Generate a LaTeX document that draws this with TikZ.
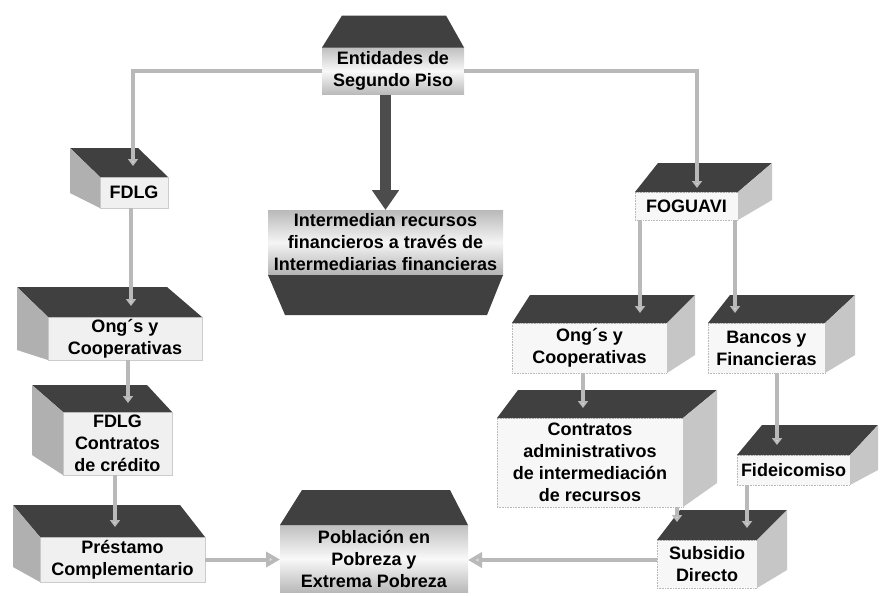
\documentclass[tikz,border=0pt]{standalone}
\usepackage{fontspec}
\setmainfont{Liberation Sans}
\usetikzlibrary{arrows.meta}
\tikzset{
  lbl/.style={font=\fontsize{18}{22}\selectfont\bfseries, align=center, inner sep=0pt, outer sep=0pt},
  rfront/.style={lbl, fill=gray!6, draw=gray!55, densely dotted, line width=0.6pt},
  lfront/.style={lbl, fill=gray!12, draw=gray!40, line width=0.5pt},
  bevfront/.style={lbl, top color=gray!50, bottom color=gray!55, middle color=gray!5},
  topface/.style={fill=black!75},
  sideface/.style={fill=gray!45},
  lsideface/.style={fill=gray!62},
  conn/.style={draw=gray!55, line width=4pt, -{Triangle[length=7pt,width=10pt,fill=gray!35]}},
  bigconn/.style={draw=gray!55, line width=4pt, -{Triangle[length=14pt,width=15pt,fill=gray!30]}},
  thickarrow/.style={draw=black!70, line width=11pt, -{Triangle[length=20pt,width=26pt]}}
}
\newcommand\RBoxFaces[5]{%
  \fill[topface] (#1.north west) -- ([xshift=#2pt,yshift=#4pt]#1.north west) -- ([xshift=#3pt,yshift=#4pt]#1.north east) -- (#1.north east) -- cycle;
  \fill[sideface] (#1.north east) -- ([xshift=#3pt,yshift=#4pt]#1.north east) -- ([xshift=#3pt,yshift=#5pt]#1.south east) -- (#1.south east) -- cycle;
}
\newcommand\LBoxFaces[5]{%
  \fill[topface] (#1.north east) -- ([xshift=-#3pt,yshift=#4pt]#1.north east) -- ([xshift=-#2pt,yshift=#4pt]#1.north west) -- (#1.north west) -- cycle;
  \fill[lsideface] (#1.north west) -- ([xshift=-#2pt,yshift=#4pt]#1.north west) -- ([xshift=-#2pt,yshift=#5pt]#1.south west) -- (#1.south west) -- cycle;
}
\begin{document}
\begin{tikzpicture}[x=1pt, y=-1pt]
\useasboundingbox[fill=white] (0,0) rectangle (880,595);

% ---- nodes (front faces)
\node[bevfront, minimum width=142pt, minimum height=47pt] (ent) at (393,71) {Entidades de\\Segundo Piso};
\node[bevfront, top color=gray!55, bottom color=gray!60, middle color=gray!8, minimum width=235pt, minimum height=65pt] (inter) at (385.5,242.5) {Intermedian recursos\\financieros a través de\\Intermediarias financieras};
\node[lfront, minimum width=68pt, minimum height=31pt] (fdlg) at (134,192.5) {FDLG};
\node[lfront, minimum width=154pt, minimum height=43pt] (ongL) at (125,338.5) {Ong´s y\\Cooperativas};
\node[lfront, minimum width=109pt, minimum height=63pt] (fcl) at (117.5,443.5) {FDLG\\Contratos\\de crédito};
\node[lfront, minimum width=165pt, minimum height=45pt] (pre) at (122.5,559.5) {Préstamo\\Complementario};
\node[bevfront, minimum width=188pt, minimum height=67pt] (pob) at (374,558.5) {Población en\\Pobreza y\\Extrema Pobreza};
\node[rfront, minimum width=103pt, minimum height=28pt] (fog) at (686.5,206) {FOGUAVI};
\node[rfront, minimum width=155pt, minimum height=50pt] (ongR) at (589.5,348) {Ong´s y\\Cooperativas};
\node[rfront, minimum width=117pt, minimum height=50pt] (ban) at (766.5,348) {Bancos y\\Financieras};
\node[rfront, minimum width=186pt, minimum height=89pt] (con) at (590,462.5) {Contratos\\administrativos\\de intermediación\\de recursos};
\node[rfront, minimum width=113pt, minimum height=30pt] (fid) at (793.5,470) {Fideicomiso};
\node[rfront, minimum width=100pt, minimum height=48pt] (sub) at (707,564) {Subsidio\\Directo};

% ---- 3D faces
\fill[topface] (ent.north west) -- ([xshift=20pt,yshift=32pt]ent.north west) -- ([xshift=-18pt,yshift=32pt]ent.north east) -- (ent.north east) -- cycle;
\fill[topface] (pob.north west) -- ([xshift=22pt,yshift=35pt]pob.north west) -- ([xshift=-18pt,yshift=35pt]pob.north east) -- (pob.north east) -- cycle;
\fill[topface] (inter.south west) -- ([xshift=17pt,yshift=-40pt]inter.south west) -- ([xshift=-16pt,yshift=-40pt]inter.south east) -- (inter.south east) -- cycle;

\LBoxFaces{fdlg}{30}{30}{29}{15}
\LBoxFaces{ongL}{31}{35}{30}{10}
\LBoxFaces{fcl}{31}{25}{27}{20}
\LBoxFaces{pre}{27}{25}{32}{15}

\RBoxFaces{fog}{23}{34}{29}{20}
\RBoxFaces{ongR}{18}{28}{28}{18}
\RBoxFaces{ban}{22}{30}{28}{18}
\RBoxFaces{con}{21}{34}{28}{24}
\RBoxFaces{fid}{25}{28}{30}{15}
\RBoxFaces{sub}{23}{30}{30}{18}

% ---- connector end points (inside top faces)
\coordinate (tipFDLG) at (133,166);
\coordinate (tipFOG) at (697,188);
\coordinate (tipOngL) at (131,306);
\coordinate (tipFCL) at (128,403);
\coordinate (tipPre) at (115,527);
\coordinate (tipOngR) at (640,313);
\coordinate (tipBan) at (735,313);
\coordinate (tipCon) at (583,408);
\coordinate (tipFid) at (777,445);
\coordinate (tipSubA) at (747,528);
\coordinate (tipSubB) at (677,522);

% ---- connectors
\draw[conn] (ent.west) -| (tipFDLG);
\draw[conn] (ent.east) -| (tipFOG);
\draw[thickarrow] (inter.north |- ent.south) -- (inter.north);
\draw[conn] (fdlg.south -| tipOngL) -- (tipOngL);
\draw[conn] (ongL.south -| tipFCL) -- (tipFCL);
\draw[conn] (fcl.south -| tipPre) -- (tipPre);
\draw[bigconn] (pre.east) -- (pob.west |- pre.east);
\draw[conn] (fog.south -| tipOngR) -- (tipOngR);
\draw[conn] (fog.south -| tipBan) -- (tipBan);
\draw[conn] (ongR.south -| tipCon) -- (tipCon);
\draw[conn] (ban.south -| tipFid) -- (tipFid);
\draw[conn] (fid.south -| tipSubA) -- (tipSubA);
\draw[conn] (con.south -| tipSubB) -- (tipSubB);
\draw[bigconn] ([yshift=4pt]sub.west) -- ([yshift=4pt]sub.west -| pob.east);
\end{tikzpicture}
\end{document}
